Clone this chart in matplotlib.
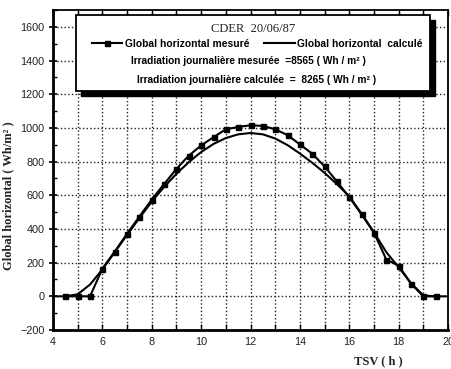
import matplotlib
matplotlib.use("Agg")
import matplotlib.pyplot as plt
from matplotlib.patches import Rectangle
from matplotlib.ticker import MultipleLocator

# heures solaires (TSV) et rayonnement global horizontal (Wh/m2)
tsv_mes = [4.5, 5.0, 5.5, 6.0, 6.5, 7.0, 7.5, 8.0, 8.5, 9.0, 9.5, 10.0, 10.5, 11.0,
           11.5, 12.0, 12.5, 13.0, 13.5, 14.0, 14.5, 15.0, 15.5, 16.0, 16.5, 17.0,
           17.5, 18.0, 18.5, 19.0, 19.5]
g_mes = [0, 0, 0, 165, 266, 372, 474, 575, 667, 757, 836, 896, 945, 992,
         1006, 1016, 1012, 992, 957, 902, 847, 771, 682, 588, 486, 378,
         218, 182, 75, 0, 0]

tsv_calc = [4.0, 4.5, 5.0, 5.5, 6.0, 6.5, 7.0, 7.5, 8.0, 8.5, 9.0, 9.5, 10.0, 10.5,
            11.0, 11.5, 12.0, 12.5, 13.0, 13.5, 14.0, 14.5, 15.0, 15.5, 16.0, 16.5,
            17.0, 17.5, 18.0, 18.5, 19.0, 19.5, 20.0]
g_calc = [0, 0, 12, 70, 160, 262, 365, 465, 563, 650, 728, 797, 857, 905,
          940, 962, 970, 962, 937, 898, 848, 793, 733, 666, 594, 490,
          380, 262, 172, 78, 5, 0, 0]

x_ticks = [4, 6, 8, 10, 12, 14, 16, 18, 20]
y_ticks = [-200, 0, 200, 400, 600, 800, 1000, 1200, 1400, 1600]

titre = "CDER  20/06/87"
lbl_mes = "Global horizontal mesuré"
lbl_calc = "Global horizontal  calculé"
txt_mes = "Irradiation journalière mesurée  =8565 ( Wh / m² )"
txt_calc = "Irradiation journalière calculée  =  8265 ( Wh / m² )"

sans = ["Liberation Sans", "DejaVu Sans"]
serif = ["Liberation Serif", "DejaVu Serif"]

fig = plt.figure(figsize=(4.52, 3.69), dpi=100)
ax = fig.add_axes([0.1173, 0.1057, 0.874, 0.867])

ax.plot(tsv_mes, g_mes, color="black", lw=1.5, marker="s", ms=3.6,
        label=lbl_mes, zorder=3)
ax.plot(tsv_calc, g_calc, color="black", lw=1.5, label=lbl_calc, zorder=3)

ax.set_xlim(4, 20)
ax.set_ylim(-200, 1700)
ax.set_xticks(x_ticks)
ax.set_yticks(y_ticks)
ax.xaxis.set_minor_locator(MultipleLocator(1))
ax.yaxis.set_minor_locator(MultipleLocator(100))

ax.grid(True, which="major", axis="y", ls=":", lw=1.0, color="#222222")
ax.grid(True, which="both", axis="x", ls=":", lw=1.0, color="#222222")

ax.tick_params(axis="x", which="both", direction="in", top=True, bottom=True,
               length=4, width=1, pad=5)
ax.tick_params(axis="y", which="major", direction="inout", length=6, width=1.2, pad=3)
ax.tick_params(axis="y", which="minor", direction="in", length=3, width=1)
for lab in ax.get_xticklabels() + ax.get_yticklabels():
    lab.set_family(sans)
    lab.set_fontsize(7.8)
    lab.set_color("#222222")

for side in ["left", "bottom"]:
    ax.spines[side].set_linewidth(2)
for side in ["top", "right"]:
    ax.spines[side].set_linewidth(1.3)

ax.set_ylabel("Global horizontal ( Wh/m² )", family=serif, fontweight="bold",
              fontsize=9, color="#222222")
ax.yaxis.set_label_coords(-0.098, 0.42)
ax.set_xlabel("TSV ( h )", family=serif, fontweight="bold", fontsize=9,
              color="#222222")
ax.xaxis.set_label_coords(0.823, -0.078)

# cadre de la légende avec ombre portée
x0, y0, w, h = 0.058, 0.747, 0.896, 0.237
ax.add_patch(Rectangle((x0 + 0.012, y0 - 0.016), w, h, transform=ax.transAxes,
                       facecolor="black", edgecolor="black", clip_on=False, zorder=5))
ax.add_patch(Rectangle((x0, y0), w, h, transform=ax.transAxes, facecolor="white",
                       edgecolor="black", lw=1.3, clip_on=False, zorder=6))

ax.text(0.506, 0.94, titre, transform=ax.transAxes, ha="center", va="center",
        family=serif, fontsize=9, color="#222222", zorder=7)
leg = ax.legend(loc="center", bbox_to_anchor=(0.517, 0.894), ncol=2, frameon=False,
                prop={"family": sans, "weight": "bold", "size": 7.4},
                handlelength=3.0, handletextpad=0.2, columnspacing=1.5,
                borderpad=0, borderaxespad=0)
leg.set_zorder(7)
ax.text(0.494, 0.84, txt_mes, transform=ax.transAxes, ha="center", va="center",
        family=sans, fontweight="bold", fontsize=7.3, zorder=7)
ax.text(0.514, 0.78, txt_calc, transform=ax.transAxes, ha="center", va="center",
        family=sans, fontweight="bold", fontsize=7.3, zorder=7)

fig.savefig("out.png", dpi=100)
